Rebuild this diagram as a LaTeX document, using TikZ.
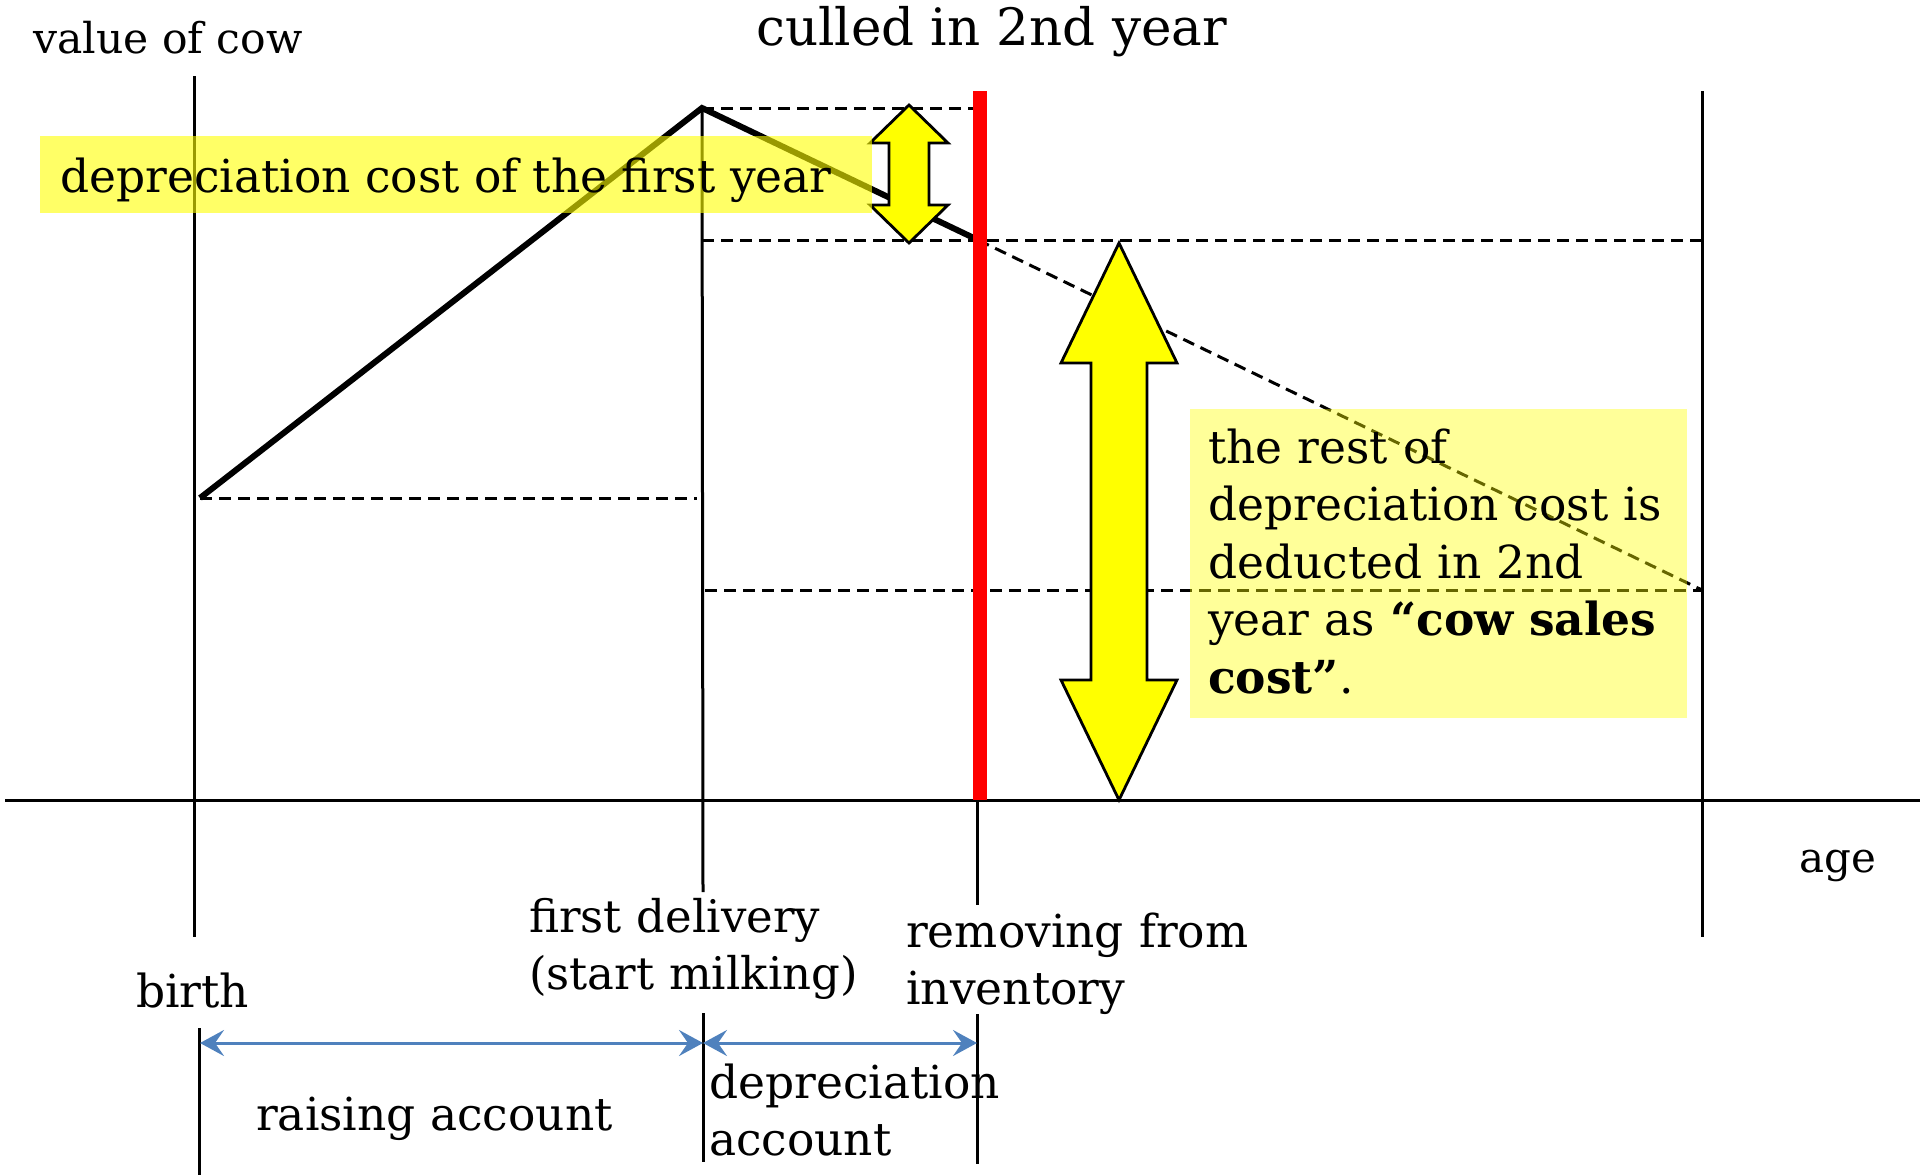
\documentclass[tikz,border=0pt]{standalone}
\usepackage{fontspec}
\setmainfont{DejaVu Serif}
\usetikzlibrary{arrows.meta}
\definecolor{acblue}{RGB}{79,129,189}
\definecolor{pureyellow}{RGB}{255,255,0}
\definecolor{purered}{RGB}{255,0,0}
\begin{document}
\begin{tikzpicture}[x=1pt,y=-1pt,
  thinline/.style={line width=3pt,black},
  dashline/.style={line width=3pt,black,dash pattern=on 12pt off 7pt},
  valueline/.style={line width=6pt,black,line join=miter},
  fatarrow/.style={draw=black,line width=2.8pt,fill=pureyellow,line join=miter},
  hlone/.style={fill=pureyellow,fill opacity=0.6},
  hltwo/.style={fill=pureyellow,fill opacity=0.4},
  lbl/.style={inner sep=0pt,anchor=base west,align=left,font=\fontsize{45.5}{57.5}\selectfont},
  acct/.style={draw=acblue,line width=3pt,{Stealth[length=24pt,width=26pt,inset=9pt]}-{Stealth[length=24pt,width=26pt,inset=9pt]}}
]
\useasboundingbox (0,0) rectangle (1924,1175);
% key points
\coordinate (birthTop) at (194,76);
\coordinate (birthBot) at (194,937);
\coordinate (peak) at (702,108);
\coordinate (fdBot) at (703,892);
\coordinate (remTop) at (977,800);
\coordinate (remBot) at (977,905);
\coordinate (rightTop) at (1702,91);
\coordinate (rightBot) at (1702,937);
\coordinate (axL) at (5,800);
\coordinate (axR) at (1920,800);
\coordinate (start) at (200,498);
\coordinate (cull) at (978,240);
\coordinate (endv) at (1702,590);
% axis and verticals
\draw[thinline] (axL) -- (axR);
\draw[thinline] (birthTop) -- (birthBot);
\draw[thinline] (peak) -- (fdBot);
\draw[thinline] (remTop) -- (remBot);
\draw[thinline] (rightTop) -- (rightBot);
\draw[thinline] (199,1028) -- (199,1175);
\draw[thinline] (703,1013) -- (703,1162);
\draw[thinline] (977,1014) -- (977,1164);
% dashed guides
\draw[dashline] (peak) -- (980,108);
\draw[dashline] (702,240) -- (1702,240);
\draw[dashline] (start) -- (697,498);
\draw[dashline] (705,590) -- (endv);
\draw[dashline] (cull) -- (endv);
% value line
\draw[valueline] (start) -- (peak) -- (cull);
% red cull line
\draw[line width=14pt,purered] (980,91) -- (980,800);
% yellow arrows
\draw[fatarrow] (909,105) -- (948,143) -- (929,143) -- (929,205) -- (948,205) -- (909,243) -- (870,205) -- (889,205) -- (889,143) -- (870,143) -- cycle;
\draw[fatarrow] (1119,243) -- (1177,363) -- (1147,363) -- (1147,680) -- (1177,680) -- (1119,800) -- (1061,680) -- (1091,680) -- (1091,363) -- (1061,363) -- cycle;
% highlight boxes
\fill[hlone] (40,136) rectangle (872,213);
\fill[hltwo] (1190,409) rectangle (1687,718);
% account arrows
\coordinate (accA) at (200,1043);
\coordinate (accB) at (703,1043);
\coordinate (accC) at (977,1043);
\draw[acct] (accA) -- (accB);
\draw[acct] (accB) -- (accC);
% texts
\node[lbl,font=\fontsize{42.5}{50}\selectfont] (tvalue) at (33,53) {value of cow};
\node[lbl,font=\fontsize{51.5}{60}\selectfont] (tcull) at (756,45) {culled in 2nd year};
\node[lbl] (tfirst) at (60,192) {depreciation cost of the first year};
\node[lbl,text width=520pt] (trest) at (1208,463) {the rest of\\depreciation cost is\\deducted in 2nd\\year as \textbf{“cow sales}\\\textbf{cost”}.};
\node[lbl,font=\fontsize{42}{50}\selectfont] (tage) at (1799,872) {age};
\node[lbl,text width=360pt,font=\fontsize{45}{57.5}\selectfont] (tfd) at (529,932) {first delivery\\(start milking)};
\node[lbl,text width=360pt] (trem) at (906,947) {removing from\\inventory};
\node[lbl] (tbirth) at (136,1007) {birth};
\node[lbl] (traise) at (256,1130) {raising account};
\node[lbl,text width=320pt] (tdep) at (709,1098) {depreciation\\account};
\end{tikzpicture}
\end{document}
